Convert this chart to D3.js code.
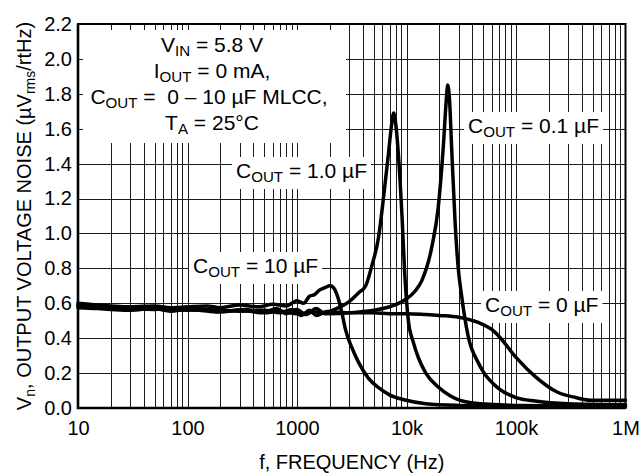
<!DOCTYPE html>
<html>
<head>
<meta charset="utf-8">
<script src="https://d3js.org/d3.v7.min.js"></script>
<style>
	body { margin: 0; background: white; }
	text { font-family: 'Liberation Sans', Arial, sans-serif; fill: black; }
	.grid line { stroke: #1a1a1a; stroke-width: 1; shape-rendering: crispEdges; }
	.curve { fill: none; stroke: black; stroke-width: 3.5; stroke-linejoin: round; stroke-linecap: round; }
</style>
</head>
<body>
<div id="chart"></div>
<script>

// x ticks / y ticks
var xTickValues = [10, 100, 1000, 10000, 100000, 1000000];
var xTickLabels = ["10", "100", "1000", "10k", "100k", "1M"];
var yTickValues = [0, 0.2, 0.4, 0.6, 0.8, 1.0, 1.2, 1.4, 1.6, 1.8, 2.0, 2.2];

// C_OUT = 0 uF
var c0Freq = [10, 14, 20, 30, 45, 70, 100, 150, 220, 330, 500, 650, 800, 1000, 1200, 1500, 1800, 2200, 3000, 5000, 7000, 10000, 15000, 20000, 30000, 45000, 60000, 70000, 100000, 150000, 240000, 350000, 480000, 700000, 1000000];
var c0Val = [0.585, 0.58, 0.57, 0.565, 0.57, 0.56, 0.565, 0.56, 0.555, 0.565, 0.55, 0.57, 0.54, 0.565, 0.535, 0.57, 0.54, 0.55, 0.545, 0.545, 0.54, 0.54, 0.535, 0.53, 0.52, 0.49, 0.45, 0.41, 0.29, 0.18, 0.09, 0.06, 0.045, 0.045, 0.045];

// C_OUT = 10 uF
var c10Freq = [10, 15, 20, 30, 50, 70, 100, 150, 200, 300, 450, 600, 800, 1000, 1150, 1300, 1450, 1600, 1800, 2000, 2150, 2300, 2450, 2600, 2770, 3150, 3660, 4500, 5600, 7000, 9700, 15000, 30000, 100000, 1000000];
var c10Val = [0.6, 0.59, 0.585, 0.58, 0.585, 0.575, 0.58, 0.585, 0.575, 0.59, 0.58, 0.595, 0.585, 0.615, 0.6, 0.64, 0.65, 0.675, 0.69, 0.70, 0.69, 0.655, 0.6, 0.53, 0.45, 0.35, 0.26, 0.17, 0.115, 0.075, 0.046, 0.025, 0.015, 0.01, 0.01];

// C_OUT = 1.0 uF
var c1Freq = [10, 15, 20, 30, 50, 70, 100, 150, 200, 300, 500, 700, 900, 1100, 1300, 1500, 1800, 2000, 2400, 3000, 3660, 4240, 4800, 5560, 6180, 6850, 7300, 7640, 8000, 8460, 9060, 9720, 10400, 11500, 12800, 15000, 19500, 25000, 39000, 100000, 1000000];
var c1Val = [0.59, 0.58, 0.575, 0.57, 0.565, 0.57, 0.56, 0.565, 0.56, 0.555, 0.56, 0.545, 0.565, 0.53, 0.56, 0.53, 0.55, 0.555, 0.575, 0.61, 0.66, 0.70, 0.81, 0.98, 1.21, 1.46, 1.62, 1.69, 1.62, 1.44, 1.12, 0.73, 0.50, 0.38, 0.29, 0.2, 0.12, 0.07, 0.03, 0.015, 0.01];

// C_OUT = 0.1 uF
var c01Freq = [10, 15, 20, 30, 50, 70, 100, 150, 200, 300, 500, 700, 1000, 1500, 2000, 3000, 5000, 7000, 9720, 12000, 13800, 17000, 19500, 21700, 23000, 23800, 24800, 25800, 27700, 29500, 31900, 36600, 45200, 50000, 70000, 100000, 150000, 300000, 1000000];
var c01Val = [0.575, 0.57, 0.565, 0.56, 0.57, 0.555, 0.565, 0.555, 0.55, 0.56, 0.545, 0.555, 0.54, 0.55, 0.54, 0.545, 0.56, 0.58, 0.62, 0.67, 0.73, 0.92, 1.15, 1.50, 1.75, 1.85, 1.75, 1.50, 1.08, 0.82, 0.64, 0.41, 0.26, 0.21, 0.11, 0.06, 0.04, 0.025, 0.02];

var W = 643, H = 474;
var pLeft = 78, pRight = 625.5, pTop = 24, pBottom = 408;

var svg = d3.select("#chart").append("svg")
	.attr("width", W)
	.attr("height", H)
	.style("background", "white");

var x = d3.scaleLog().domain([10, 1e6]).range([pLeft, pRight]);
var y = d3.scaleLinear().domain([0, 2.2]).range([pBottom, pTop]);

// grid: 1..9 per decade, 0.2 steps
var vGrid = [];
[10, 100, 1000, 1e4, 1e5].forEach(function (d) {
	for (var k = 1; k < 10; k++) {
		if (d * k > 10) vGrid.push(d * k);
	}
});
var grid = svg.append("g").attr("class", "grid");
grid.selectAll(".v").data(vGrid).enter().append("line")
	.attr("x1", function (d) { return Math.round(x(d)) + 0.5; })
	.attr("x2", function (d) { return Math.round(x(d)) + 0.5; })
	.attr("y1", pTop).attr("y2", pBottom);
grid.selectAll(".h").data(yTickValues.slice(1, -1)).enter().append("line")
	.attr("x1", pLeft).attr("x2", pRight)
	.attr("y1", function (d) { return Math.round(y(d)) + 0.5; })
	.attr("y2", function (d) { return Math.round(y(d)) + 0.5; });

// white boxes behind the labels
var boxLayer = svg.append("g");
var labelLayer = svg.append("g");

// conditions box
boxLayer.append("rect")
	.attr("x", 83).attr("y", 30).attr("width", 263).attr("height", 113)
	.attr("fill", "white");

function addLabel(g, parts, px, py, anchor, size) {
	var t = g.append("text")
		.attr("x", px).attr("y", py)
		.attr("text-anchor", anchor || "start")
		.style("font-size", size + "px");
	parts.forEach(function (p) {
		if (p[1] == "sub") {
			t.append("tspan").attr("dy", 4).style("font-size", (size * 0.72) + "px").text(p[0]);
		} else {
			t.append("tspan").attr("dy", p[2] ? -4 : 0).text(p[0]);
		}
	});
	return t;
}

var fs = 21;
var condX = 212;
addLabel(labelLayer, [["V"], ["IN", "sub"], [" = 5.8 V", "", 1]], condX, 52, "middle", fs);
addLabel(labelLayer, [["I"], ["OUT", "sub"], [" = 0 mA,", "", 1]], condX, 78, "middle", fs);
addLabel(labelLayer, [["C"], ["OUT", "sub"], [" =\u00a0\u00a00 \u2013 10 \u00b5F MLCC,", "", 1]], condX - 3, 104, "middle", fs);
addLabel(labelLayer, [["T"], ["A", "sub"], [" = 25\u00b0C", "", 1]], condX, 130, "middle", fs);

// curve labels
var curveLabels = [
	{ txt: " = 1.0 \u00b5F", x: 236, y: 178 },
	{ txt: " = 0.1 \u00b5F", x: 468, y: 133 },
	{ txt: " = 10 \u00b5F", x: 193, y: 273 },
	{ txt: " = 0 \u00b5F", x: 485, y: 312 }
];
curveLabels.forEach(function (c) {
	var t = addLabel(labelLayer, [["C"], ["OUT", "sub"], [c.txt, "", 1]], c.x, c.y, "start", fs);
	var bb = t.node().getBBox();
	boxLayer.append("rect")
		.attr("x", bb.x - 4).attr("y", bb.y - 2)
		.attr("width", bb.width + 8).attr("height", bb.height + 6)
		.attr("fill", "white");
});

// frame
svg.append("rect")
	.attr("x", pLeft).attr("y", pTop)
	.attr("width", pRight - pLeft).attr("height", pBottom - pTop)
	.attr("fill", "none").attr("stroke", "black").attr("stroke-width", 2);
svg.append("path")
	.attr("d", "M" + pLeft + "," + pTop + "V" + pBottom + "H" + pRight)
	.attr("fill", "none").attr("stroke", "black").attr("stroke-width", 2.6);

// curves
var line = d3.line()
	.x(function (d) { return x(d[0]); })
	.y(function (d) { return y(d[1]); })
	.curve(d3.curveMonotoneX);

var series = [[c0Freq, c0Val], [c10Freq, c10Val], [c1Freq, c1Val], [c01Freq, c01Val]];
svg.selectAll(".curve")
	.data(series.map(function (s) { return d3.zip(s[0], s[1]); }))
	.enter().append("path")
	.attr("class", "curve")
	.attr("d", line);

// axes labels
svg.append("g")
	.attr("transform", "translate(" + pLeft + ",0)")
	.call(d3.axisLeft(y).tickValues(yTickValues).tickFormat(d3.format(".1f")).tickSize(0).tickPadding(6))
	.call(function (g) { g.select(".domain").remove(); })
	.selectAll("text")
	.style("font-size", "20px")
	.attr("font-family", null);

svg.append("g")
	.attr("transform", "translate(0," + pBottom + ")")
	.call(d3.axisBottom(x).tickValues(xTickValues).tickFormat(function (d, i) { return xTickLabels[i]; }).tickSize(0).tickPadding(13))
	.call(function (g) { g.select(".domain").remove(); })
	.selectAll("text")
	.style("font-size", "20px")
	.attr("font-family", null);

svg.append("text")
	.attr("x", (pLeft + pRight) / 2).attr("y", 469)
	.attr("text-anchor", "middle")
	.style("font-size", "20px")
	.text("f, FREQUENCY (Hz)");

var yt = svg.append("text")
	.attr("transform", "translate(31," + ((pTop + pBottom) / 2) + ") rotate(-90)")
	.attr("text-anchor", "middle")
	.style("font-size", "20px");
yt.append("tspan").text("V");
yt.append("tspan").attr("dy", 4).style("font-size", "14px").text("n");
yt.append("tspan").attr("dy", -4).text(", OUTPUT VOLTAGE NOISE (\u00b5V");
yt.append("tspan").attr("dy", 4).style("font-size", "14px").text("rms");
yt.append("tspan").attr("dy", -4).text("/rtHz)");

</script>
</body>
</html>
